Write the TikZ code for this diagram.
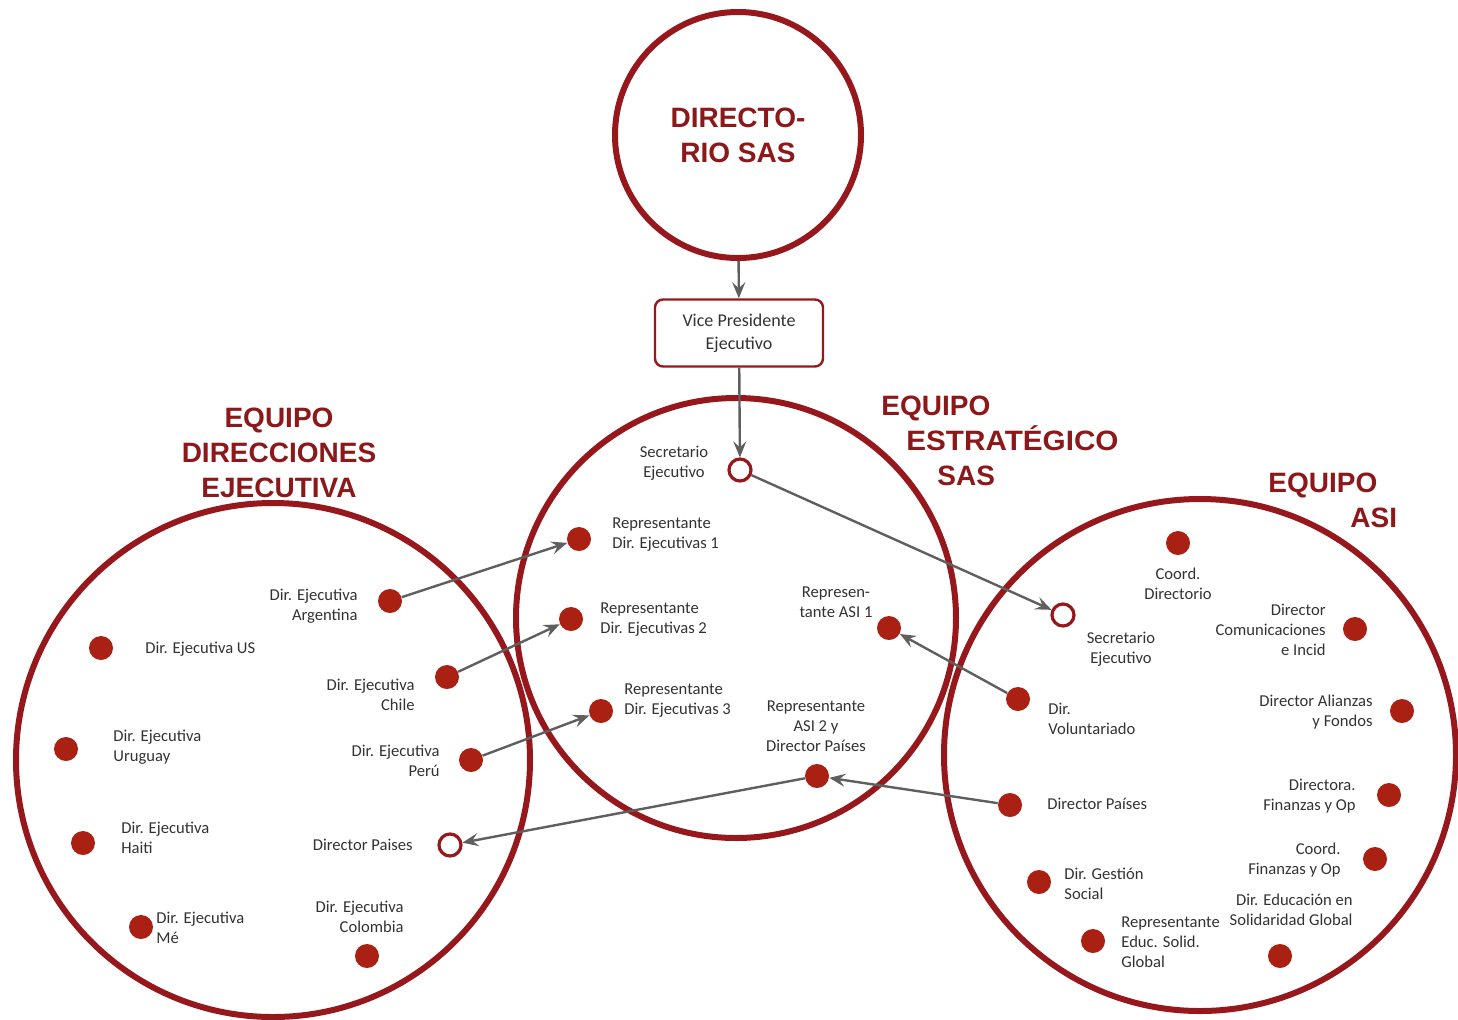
\documentclass[tikz,border=0pt]{standalone}
\usepackage{fontspec}
\setmainfont{Carlito}
\newfontfamily\titlefont{Liberation Sans}
\usetikzlibrary{arrows.meta}
\definecolor{ringc}{RGB}{150,24,28}
\definecolor{dotc}{RGB}{170,32,18}
\definecolor{ttlc}{RGB}{140,24,26}
\definecolor{connc}{RGB}{95,95,95}
\definecolor{txtc}{RGB}{50,50,50}
\tikzset{
 ring/.style={circle, draw=ringc, line width=3pt, inner sep=0pt},
 dotn/.style={circle, fill=dotc, minimum size=12pt, inner sep=0pt},
 opendot/.style={circle, draw=ringc, line width=1.6pt, fill=white, minimum size=11pt, inner sep=0pt},
 lbl/.style={font=\fontsize{8.3}{10}\selectfont, text=txtc, inner sep=0pt},
 ttl/.style={font=\titlefont\bfseries\fontsize{14}{17.5}\selectfont, text=ttlc, inner sep=0pt},
 vpbox/.style={draw=ringc, line width=1.2pt, rounded corners=4pt, minimum width=84pt, minimum height=33.5pt, align=center, font=\fontsize{9}{11.5}\selectfont, text=txtc},
 arr/.style={draw=connc, line width=1.2pt, -{Stealth[length=8pt,width=6.5pt,inset=3pt]}},
}
\begin{document}
\begin{tikzpicture}[x=0.5pt,y=-0.5pt]
\useasboundingbox (0,0) rectangle (1458,1019);
% big circles
\node[ring, minimum size=123pt, ttl, align=center] (dirsas) at (738,135) {DIRECTO-\\RIO SAS};
\node[ring, minimum size=220pt] (mid) at (736,618) {};
\node[ring, minimum size=257pt] (left) at (273,760) {};
\node[ring, minimum size=256pt] (right) at (1200,755) {};
% titles
\node[ttl, align=center] (tleft) at (279,453) {EQUIPO\\DIRECCIONES\\EJECUTIVA};
\node[ttl, align=left, anchor=west] (tmid) at (881,441) {EQUIPO\\\hspace*{12.5pt}\scalebox{1.06}[1]{ESTRATÉGICO}\\\hspace*{28pt}SAS};
\node[ttl, align=left, anchor=west] (tright) at (1268,500) {EQUIPO\\\hspace*{41pt}ASI};
% VP box
\node[vpbox] (vp) at (739,333) {Vice Presidente\\Ejecutivo};
% left circle members
\node[dotn] (arg) at (390,601) {};
\node[lbl, align=right, anchor=east] at (358,606) {Dir. Ejecutiva\\Argentina};
\node[dotn] (us) at (101,648) {};
\node[lbl, anchor=west] at (145,649) {Dir. Ejecutiva US};
\node[dotn] (chi) at (447,677) {};
\node[lbl, align=right, anchor=east] at (415,695) {Dir. Ejecutiva\\Chile};
\node[dotn] (uru) at (66,749) {};
\node[lbl, align=left, anchor=west] at (113,747) {Dir. Ejecutiva\\Uruguay};
\node[dotn] (per) at (471,760) {};
\node[lbl, align=right, anchor=east] at (440,761) {Dir. Ejecutiva\\Perú};
\node[dotn] (hai) at (83,843) {};
\node[lbl, align=left, anchor=west] at (121,838) {Dir. Ejecutiva\\Haiti};
\node[opendot] (dpL) at (450,845) {};
\node[lbl, anchor=east] at (413,845) {Director Paises};
\node[dotn] (mex) at (141,927) {};
\node[lbl, align=left, anchor=west] at (156,928) {Dir. Ejecutiva\\Mé};
\node[dotn] (col) at (367,956) {};
\node[lbl, align=right, anchor=east] at (404,917) {Dir. Ejecutiva\\Colombia};
% middle circle members
\node[opendot] (secM) at (740,470) {};
\node[lbl, align=center] at (674,463) {Secretario\\Ejecutivo};
\node[dotn] (rde1) at (579,539) {};
\node[lbl, align=left, anchor=west] at (612,535) {Representante\\Dir. Ejecutivas 1};
\node[dotn] (rde2) at (571,619) {};
\node[lbl, align=left, anchor=west] at (600,620) {Representante\\Dir. Ejecutivas 2};
\node[dotn] (rde3) at (601,711) {};
\node[lbl, align=left, anchor=west] at (624,701) {Representante\\Dir. Ejecutivas 3};
\node[dotn] (asi1) at (889,628) {};
\node[lbl, align=center] at (836,602) {Represen-\\tante ASI 1};
\node[dotn] (asi2) at (817,776) {};
\node[lbl, align=center] at (816,726) {Representante\\ASI 2 y\\Director Países};
% right circle members
\node[dotn] (cdir) at (1178,543) {};
\node[lbl, align=center] at (1178,584) {Coord.\\Directorio};
\node[opendot] (secR) at (1063,615) {};
\node[lbl, align=center] at (1121,649) {Secretario\\Ejecutivo};
\node[dotn] (dcom) at (1355,629) {};
\node[lbl, align=right, anchor=east] at (1326,630) {Director\\Comunicaciones\\e Incid};
\node[dotn] (vol) at (1018,699) {};
\node[lbl, align=left, anchor=west] at (1048,719) {Dir.\\Voluntariado};
\node[dotn] (ali) at (1402,711) {};
\node[lbl, align=right, anchor=east] at (1373,712) {Director Alianzas\\y Fondos};
\node[dotn] (dpR) at (1010,805) {};
\node[lbl, anchor=west] at (1047,804) {Director Países};
\node[dotn] (dfin) at (1389,795) {};
\node[lbl, align=right, anchor=east] at (1356,796) {Directora.\\Finanzas y Op};
\node[dotn] (cfin) at (1375,859) {};
\node[lbl, align=right, anchor=east] at (1341,860) {Coord.\\Finanzas y Op};
\node[dotn] (ges) at (1039,882) {};
\node[lbl, align=left, anchor=west] at (1064,884) {Dir. Gestión\\Social};
\node[dotn] (edu) at (1280,956) {};
\node[lbl, align=right, anchor=east] at (1353,910) {Dir. Educación en\\Solidaridad Global};
\node[dotn] (resg) at (1093,941) {};
\node[lbl, align=left, anchor=west] at (1121,942) {Representante\\Educ. Solid.\\Global};
% connectors
\draw[arr] (dirsas) -- (vp);
\draw[arr] (vp) -- (secM);
\draw[arr] (secM) -- (secR);
\draw[arr] (arg) -- (rde1);
\draw[arr] (chi) -- (rde2);
\draw[arr] (per) -- (rde3);
\draw[arr] (asi2) -- (dpL);
\draw[arr] (vol) -- (asi1);
\draw[arr] (dpR) -- (asi2);
\end{tikzpicture}
\end{document}
